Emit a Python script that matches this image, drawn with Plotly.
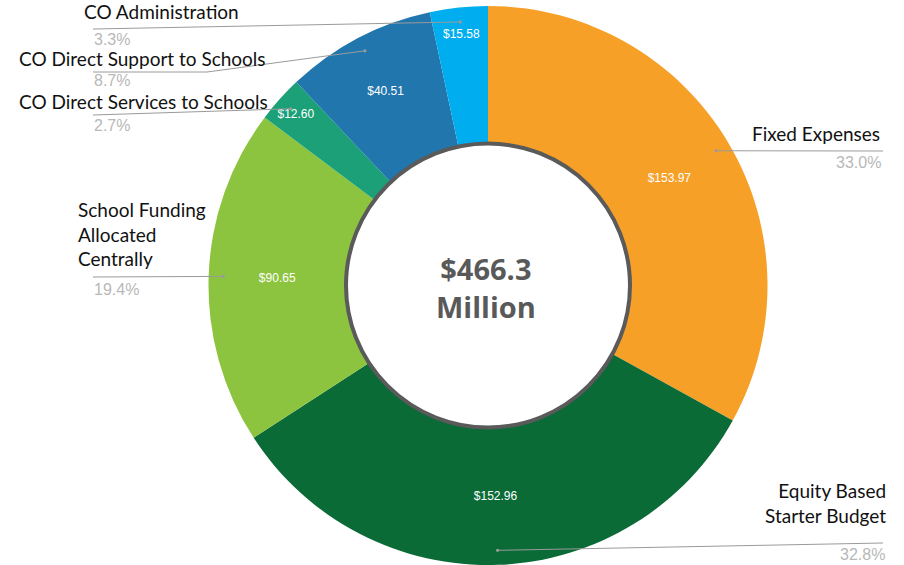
import math
import plotly.graph_objects as go

# ---- data ----
categories = ["Fixed Expenses", "Equity Based Starter Budget", "School Funding Allocated Centrally",
              "CO Direct Services to Schools", "CO Direct Support to Schools", "CO Administration"]
values = [153.97, 152.96, 90.65, 12.60, 40.51, 15.58]
colors = ["#F7A028", "#0A6B37", "#8DC43F", "#1BA078", "#2176AE", "#00AEEF"]
label_texts = ["Fixed Expenses", "Equity Based<br>Starter Budget", "School Funding<br>Allocated<br>Centrally",
               "CO Direct Services to Schools", "CO Direct Support to Schools", "CO Administration"]
center_text = "$466.3<br>Million"

W, H = 904, 565
OFF = 0  # page body margin (removed via post_script)
# pie geometry (page pixels)
R = 279.5
CX, CY = 488.0, 285.5
HOLE_R = 142.0

def px2paper(x, y):
    return (x - OFF) / W, 1 - (y - OFF) / H

total = sum(values)
pcts = [v / total * 100 for v in values]

fig = go.Figure()
fig.add_trace(go.Pie(
    labels=categories, values=values, sort=False, direction="clockwise", rotation=0,
    hole=HOLE_R / R,
    marker=dict(colors=colors, line=dict(width=0)),
    texttemplate="$%{value:.2f}", textposition="inside", insidetextorientation="horizontal",
    insidetextfont=dict(family="Arial, Liberation Sans", size=12, color="white"),
    domain=dict(x=[(CX - R - OFF) / W, (CX + R - OFF) / W],
                y=[max(0, 1 - (CY + R - OFF) / H), min(1, 1 - (CY - R - OFF) / H)]),
    showlegend=False, hoverinfo="label+value+percent",
))

# mid-angles of slices (clockwise from top)
cum = 0.0
mids = []
for v in values:
    mids.append((cum + v / 2) / total * 2 * math.pi)
    cum += v

DOT_R = 265.0
dots = [(CX + DOT_R * math.sin(a), CY - DOT_R * math.cos(a)) for a in mids]

# leader line label-side points (layout positions, page px), ordered from dot outward
leader_ends = [
    [(883, 151)],
    [(883, 543)],
    [(93, 277)],
    [(93, 115)],
    [(207, 72), (93, 72)],
    [(93, 29)],
]
shapes = []
for (dx, dy), ends in zip(dots, leader_ends):
    chain = [(dx, dy)] + ends
    for (x0, y0), (x1, y1) in zip(chain[:-1], chain[1:]):
        p0 = px2paper(x0, y0); p1 = px2paper(x1, y1)
        shapes.append(dict(type="line", xref="paper", yref="paper", x0=p0[0], y0=p0[1], x1=p1[0], y1=p1[1],
                           line=dict(color="#9A9A9A", width=1), layer="above"))
    r = 1.6
    a0 = px2paper(dx - r, dy + r); a1 = px2paper(dx + r, dy - r)
    shapes.append(dict(type="circle", xref="paper", yref="paper", x0=a0[0], y0=a0[1], x1=a1[0], y1=a1[1],
                       fillcolor="#9A9A9A", line=dict(width=0), layer="above"))

# hole border
b0 = px2paper(CX - HOLE_R, CY + HOLE_R); b1 = px2paper(CX + HOLE_R, CY - HOLE_R)
shapes.append(dict(type="circle", xref="paper", yref="paper", x0=b0[0], y0=b0[1], x1=b1[0], y1=b1[1],
                   line=dict(color="#5A5A5A", width=4), fillcolor="rgba(0,0,0,0)", layer="above"))

# label positions (page px): (x, y, xanchor) for name and percent
name_pos = [(881, 134, "right"), (887, 503, "right"), (77, 234, "left"),
            (18, 101, "left"), (18, 59, "left"), (83, 12, "left")]
pct_pos = [(882, 162, "right"), (886, 554, "right"), (93, 289, "left"),
           (93, 126, "left"), (93, 81, "left"), (93, 39, "left")]

annotations = []
for txt, (x, y, xa) in zip(label_texts, name_pos):
    p = px2paper(x, y)
    annotations.append(dict(text=txt, x=p[0], y=p[1], xref="paper", yref="paper", xanchor=xa, yanchor="middle",
                            showarrow=False, align=xa, borderpad=0,
                            font=dict(family="Lato, Open Sans, sans-serif", size=19, color="#111111")))
for pc, (x, y, xa) in zip(pcts, pct_pos):
    p = px2paper(x, y)
    annotations.append(dict(text=f"{pc:.1f}%", x=p[0], y=p[1], xref="paper", yref="paper", xanchor=xa,
                            yanchor="middle", showarrow=False, borderpad=0,
                            font=dict(family="Arial, Liberation Sans", size=16, color="#B8B8B8")))
pc_ = px2paper(CX - 2, CY + 2)
annotations.append(dict(text=f"<b>{center_text}</b>", x=pc_[0], y=pc_[1], xref="paper", yref="paper",
                        xanchor="center", yanchor="middle", showarrow=False,
                        font=dict(family="Open Sans, sans-serif", size=29, color="#595959")))

fig.update_layout(width=W, height=H, margin=dict(l=0, r=0, t=0, b=0),
                  paper_bgcolor="white", plot_bgcolor="white",
                  shapes=shapes, annotations=annotations)
fig.write_html("out.html", config={"displayModeBar": False},
               post_script="document.body.style.margin='0';document.body.style.overflow='hidden';")
